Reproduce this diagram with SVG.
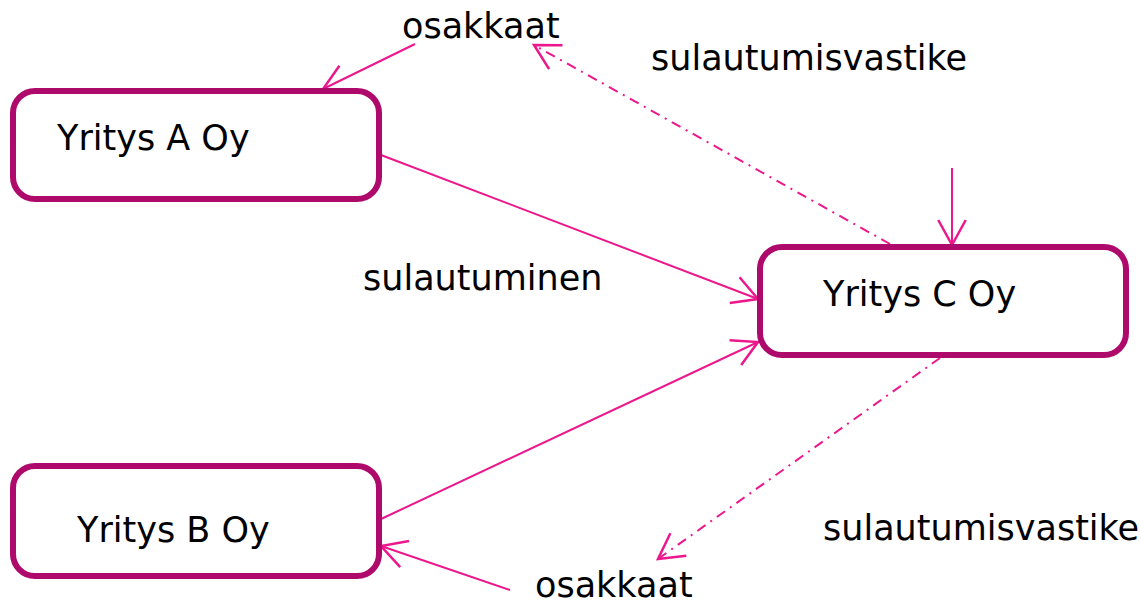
<svg xmlns="http://www.w3.org/2000/svg" width="1141" height="605" viewBox="0 0 1141 605">
<style>
.box{fill:#fff;stroke:#ae0a6b;stroke-width:6}
.t{font-family:"DejaVu Sans",Verdana,sans-serif;font-size:35px;fill:#000}
.c{fill:none;stroke:#ec178c;stroke-width:2}
.dd{stroke-dasharray:10 6 2 6}
</style>
<defs>
<marker id="a" markerUnits="userSpaceOnUse" markerWidth="30" markerHeight="30" viewBox="-22 -12 24 24" refX="0" refY="0" orient="auto">
<path d="M-20,-11 L0,0 L-20,11" fill="none" stroke="#ec178c" stroke-width="2"/>
</marker>
</defs>
<rect width="1141" height="605" fill="#fff"/>
<g id="connectors">
<line class="c" x1="415" y1="44" x2="323" y2="89" marker-end="url(#a)"/>
<line class="c" x1="381" y1="155" x2="758" y2="299" marker-end="url(#a)"/>
<line class="c" x1="381" y1="519" x2="758" y2="342" marker-end="url(#a)"/>
<line class="c" x1="510" y1="590" x2="381" y2="546" marker-end="url(#a)"/>
<line class="c dd" x1="890" y1="244" x2="534" y2="45" marker-end="url(#a)"/>
<line class="c" x1="952" y1="168" x2="952" y2="245" marker-end="url(#a)"/>
<line class="c dd" x1="940" y1="358" x2="658" y2="559" marker-end="url(#a)"/>
</g>
<g id="nodeA">
<rect class="box" x="13" y="91" width="366" height="108" rx="22"/>
<text class="t" x="57" y="150">Yritys A Oy</text>
</g>
<g id="nodeB">
<rect class="box" x="13" y="466" width="366" height="110" rx="22"/>
<text class="t" x="77" y="542">Yritys B Oy</text>
</g>
<g id="nodeC">
<rect class="box" x="760" y="247" width="366" height="108" rx="22"/>
<text class="t" x="823" y="306">Yritys C Oy</text>
</g>
<g id="labels">
<text class="t" x="402" y="38">osakkaat</text>
<text class="t" x="651" y="70">sulautumisvastike</text>
<text class="t" x="363" y="290">sulautuminen</text>
<text class="t" x="823" y="540">sulautumisvastike</text>
<text class="t" x="535" y="597">osakkaat</text>
</g>
</svg>
